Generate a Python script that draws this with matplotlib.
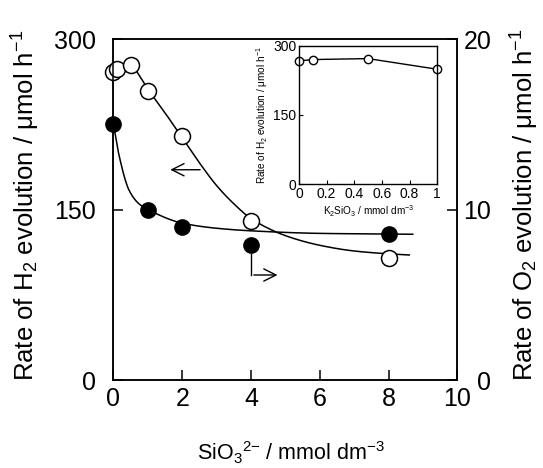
import numpy as np
import matplotlib
matplotlib.use("Agg")
import matplotlib.pyplot as plt

plt.rcParams['font.family'] = ['Liberation Sans', 'DejaVu Sans']
plt.rcParams['mathtext.fontset'] = 'custom'
plt.rcParams['mathtext.rm'] = 'Liberation Sans'
plt.rcParams['mathtext.it'] = 'Liberation Sans:italic'
plt.rcParams['mathtext.bf'] = 'Liberation Sans:bold'

# ---- data ----
sio3_h2 = [0, 0.1, 0.5, 1, 2, 4, 8]
h2_rate = [271, 274, 277, 254, 215, 140, 107.5]

sio3_o2 = [0, 1, 2, 4, 8]
o2_rate = [15.0, 10.0, 9.0, 7.9, 8.55]

# guide curves (hand-drawn fits)
h2_fit_x = [0.6, 1, 1.5, 2, 2.5, 3, 3.5, 4, 5, 6, 7, 8, 8.6]
h2_fit_y = [275, 256, 235, 213, 191, 171, 155, 142, 127, 118.5, 113.5, 111, 110]
o2_fit_x = [0, 0.17, 0.46, 0.76, 1, 2, 3, 4, 6, 8.7]
o2_fit_y = [15.0, 13.1, 11.1, 10.3, 10.0, 9.2, 8.9, 8.75, 8.6, 8.55]

k2sio3 = [0, 0.1, 0.5, 1]
inset_h2 = [267, 270, 272, 249]

x_ticks = [0, 2, 4, 6, 8, 10]
h2_ticks = [0, 150, 300]
o2_ticks = [0, 10, 20]
inset_xticks = [0, 0.2, 0.4, 0.6, 0.8, 1]
inset_xticklabels = ['0', '0.2', '0.4', '0.6', '0.8', '1']
inset_yticks = [0, 150, 300]


def pchip(x, y, xn):
    x = np.asarray(x, float); y = np.asarray(y, float)
    h = np.diff(x); d = np.diff(y) / h
    m = np.zeros_like(y)
    for k in range(1, len(x) - 1):
        if d[k - 1] * d[k] <= 0:
            m[k] = 0
        else:
            w1 = 2 * h[k] + h[k - 1]; w2 = h[k] + 2 * h[k - 1]
            m[k] = (w1 + w2) / (w1 / d[k - 1] + w2 / d[k])
    m[0] = d[0]; m[-1] = d[-1]
    out = np.empty_like(xn)
    for i, xv in enumerate(xn):
        k = min(max(np.searchsorted(x, xv) - 1, 0), len(x) - 2)
        t = (xv - x[k]) / h[k]
        h00 = 2*t**3 - 3*t**2 + 1; h10 = t**3 - 2*t**2 + t
        h01 = -2*t**3 + 3*t**2; h11 = t**3 - t**2
        out[i] = h00*y[k] + h10*h[k]*m[k] + h01*y[k+1] + h11*h[k]*m[k+1]
    return out


fig = plt.figure(figsize=(5.43, 4.68), dpi=100)
ax = fig.add_axes([0.2090, 0.188, 0.6335, 0.7286])
ax2 = ax.twinx()

tfs = 18
lfs = 18.5
# H2 (left axis)
xs = np.linspace(h2_fit_x[0], h2_fit_x[-1], 300)
ax.plot(xs, pchip(h2_fit_x, h2_fit_y, xs), color='black', lw=1.1, zorder=2)
ax.plot(sio3_h2, h2_rate, 'o', ms=11.5, mfc='white', mec='black', mew=1.1,
        zorder=3, clip_on=False)
ax.set_xlim(0, 10)
ax.set_ylim(0, 300)
ax.set_xticks(x_ticks)
ax.set_yticks(h2_ticks)
ax.tick_params(direction='in', length=7, width=1.1, labelsize=tfs)
ax.tick_params(axis='y', pad=12.5)
ax.tick_params(axis='x', pad=5)
ax.annotate('', xy=(1.57, 185), xytext=(2.6, 185),
            arrowprops=dict(arrowstyle='->', lw=1.0, mutation_scale=22, color='black'))

# O2 (right axis)
xs2 = np.linspace(o2_fit_x[0], o2_fit_x[-1], 300)
ax2.plot(xs2, pchip(o2_fit_x, o2_fit_y, xs2), color='black', lw=1.1, zorder=2)
ax2.plot(sio3_o2, o2_rate, 'o', ms=11, mfc='black', mec='black',
         zorder=3, clip_on=False)
ax2.set_ylim(0, 20)
ax2.set_yticks(o2_ticks)
ax2.tick_params(direction='in', length=7, width=1.1, labelsize=tfs, pad=4.3)
ax2.yaxis.get_major_ticks()[0].set_pad(14)
ax2.plot([4.01, 4.01], [7.4, 6.16], color='black', lw=1.0)
ax2.annotate('', xy=(4.85, 6.16), xytext=(4.0, 6.16),
             arrowprops=dict(arrowstyle='->', lw=1.0, mutation_scale=22, color='black'))

for a in (ax, ax2):
    for s in a.spines.values():
        s.set_linewidth(1.1)

# axis titles
fig.text(26 / 543, 1 - 205 / 468, 'Rate of H$_2$ evolution / \u03bcmol h$^{\u22121}$',
         rotation=90, ha='center', va='center', fontsize=lfs)
fig.text(525 / 543, 1 - 205 / 468, 'Rate of O$_2$ evolution / \u03bcmol h$^{\u22121}$',
         rotation=90, ha='center', va='center', fontsize=lfs)
fig.text(291 / 543, 8 / 468, 'SiO$_3$$^{2{\u2212}}$ / mmol dm$^{\u22123}$',
         ha='center', va='baseline', fontsize=15.5)

# inset
ins = fig.add_axes([0.5506, 0.6062, 0.2547, 0.2962], zorder=5)
ins.plot(k2sio3, inset_h2, '-o', color='black', lw=1.0, ms=6, mfc='white',
         mec='black', mew=1.0, clip_on=False)
ins.set_xlim(0, 1)
ins.set_ylim(0, 300)
ins.set_xticks(inset_xticks)
ins.set_xticklabels(inset_xticklabels)
ins.set_yticks(inset_yticks)
ins.tick_params(direction='in', length=3, width=0.8, labelsize=10, pad=2)
ins.set_xlabel('K$_2$SiO$_3$ / mmol dm$^{\u22123}$', fontsize=7.2, labelpad=2)
ins.set_ylabel('Rate of H$_2$ evolution / \u03bcmol h$^{\u22121}$', fontsize=7.2, labelpad=2)
for s in ins.spines.values():
    s.set_linewidth(1.0)

fig.savefig('out.png', dpi=100)
